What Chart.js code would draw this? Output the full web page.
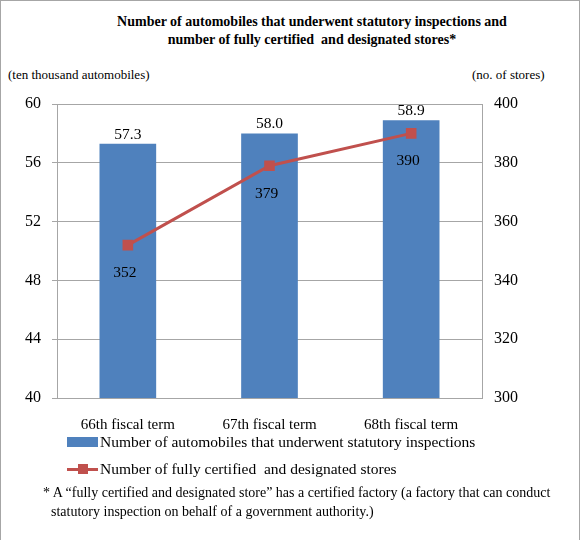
<!DOCTYPE html>
<html>
<head>
<meta charset="utf-8">
<script src="https://cdn.jsdelivr.net/npm/chart.js@4"></script>
<style>
    body { margin: 0; background: #fff; }
    #wrap { position: relative; width: 581px; height: 540px; font-family: 'Liberation Serif', serif; color: #000; }
    #frame { position: absolute; left: 0; top: 0; width: 580px; height: 560px; border: 1px solid #a6a6a6; box-sizing: border-box; pointer-events: none; }
    #chart { position: absolute; left: 0; top: 0; }
    .title { position: absolute; left: 90px; width: 444px; top: 13px; text-align: center; font-weight: bold; font-size: 14px; line-height: 18px; white-space: nowrap; }
    .unit { position: absolute; top: 67px; font-size: 13px; line-height: 16px; white-space: nowrap; }
    #legend { position: absolute; left: 67px; top: 428px; font-size: 15.5px; }
    #legend .item { height: 27px; display: flex; align-items: center; white-space: nowrap; }
    #legend .swatch { position: relative; width: 31px; height: 12px; margin-right: 2px; }
    .note { position: absolute; left: 51px; top: 483px; width: 510px; font-size: 14px; line-height: 19px; text-indent: -8px; }
</style>
</head>
<body>
<div id="wrap">
    <div class="title">Number of automobiles that underwent statutory inspections and<br>number of fully certified&nbsp; and designated stores*</div>
    <div class="unit" style="left: 8px;">(ten thousand automobiles)</div>
    <div class="unit" style="left: 472px;">(no. of stores)</div>
    <canvas id="chart" width="581" height="430"></canvas>
    <div id="legend"></div>
    <div class="note">* A “fully certified and designated store” has a certified factory (a factory that can conduct statutory inspection on behalf of a government authority.)</div>
    <div id="frame"></div>
</div>
<script>
// Data
const terms = ['66th fiscal term', '67th fiscal term', '68th fiscal term'];
const vehicles = [57.3, 58.0, 58.9];   // ten thousand automobiles
const stores = [352, 379, 390];        // no. of stores
const leftTicks = [40, 44, 48, 52, 56, 60];
const rightTicks = [300, 320, 340, 360, 380, 400];

const seriesNames = [
    'Number of automobiles that underwent statutory inspections',
    'Number of fully certified  and designated stores'
];

const BLUE = '#4F81BD';
const RED = '#C0504D';
const GRID = '#a6a6a6';
const FONT = "'Liberation Serif', 'Times New Roman', serif";

// value labels: bars above, line points below
const valueLabels = {
    id: 'valueLabels',
    afterDatasetsDraw(chart) {
        const ctx = chart.ctx;
        ctx.save();
        ctx.font = '15.5px ' + FONT;
        ctx.fillStyle = '#000';
        ctx.textAlign = 'center';
        ctx.textBaseline = 'middle';
        chart.data.datasets.forEach((ds, i) => {
            const meta = chart.getDatasetMeta(i);
            meta.data.forEach((el, j) => {
                if (ds.type === 'bar') {
                    ctx.fillText(ds.data[j].toFixed(1), el.x, el.y - 9);
                } else {
                    ctx.fillText(String(ds.data[j]), el.x - 3, el.y + 28);
                }
            });
        });
        ctx.restore();
    }
};

const chart = new Chart(document.getElementById('chart'), {
    data: {
        labels: terms,
        datasets: [
            {
                type: 'line',
                label: seriesNames[1],
                data: stores,
                yAxisID: 'y1',
                borderColor: RED,
                backgroundColor: RED,
                borderWidth: 3,
                pointStyle: 'rect',
                pointRadius: 7.5,
                pointBorderWidth: 0,
                tension: 0,
                order: 0
            },
            {
                type: 'bar',
                label: seriesNames[0],
                data: vehicles,
                yAxisID: 'y',
                backgroundColor: BLUE,
                borderWidth: 0,
                categoryPercentage: 1,
                barPercentage: 0.4,
                order: 1
            }
        ]
    },
    options: {
        responsive: false,
        animation: false,
        layout: { padding: { left: 0, right: 0, top: 104, bottom: 0 } },
        plugins: {
            legend: { display: false },
            title: { display: false },
            tooltip: { enabled: false }
        },
        scales: {
            x: {
                grid: { display: false },
                border: { color: GRID },
                ticks: { color: '#000', font: { family: FONT, size: 15 }, padding: 10, maxRotation: 0 },
                afterFit: s => { s.height = 32; }
            },
            y: {
                position: 'left',
                min: leftTicks[0],
                max: leftTicks[leftTicks.length - 1],
                afterBuildTicks: s => { s.ticks = leftTicks.map(v => ({ value: v })); },
                grid: { color: GRID, tickLength: 5 },
                border: { color: GRID },
                ticks: { color: '#000', font: { family: FONT, size: 16 }, padding: 11 },
                afterFit: s => { s.width = 57; }
            },
            y1: {
                position: 'right',
                min: rightTicks[0],
                max: rightTicks[rightTicks.length - 1],
                afterBuildTicks: s => { s.ticks = rightTicks.map(v => ({ value: v })); },
                grid: { display: false, drawTicks: false },
                border: { color: GRID },
                ticks: { color: '#000', font: { family: FONT, size: 16 }, padding: 12 },
                afterFit: s => { s.width = 99; }
            }
        }
    },
    plugins: [valueLabels]
});

// legend built from the chart's datasets (bar first, then line)
const legendEl = document.getElementById('legend');
[1, 0].forEach(i => {
    const ds = chart.data.datasets[i];
    const item = document.createElement('div');
    item.className = 'item';
    const sw = document.createElement('div');
    sw.className = 'swatch';
    if (ds.type === 'bar') {
        sw.innerHTML = '<div style="position:absolute;left:0;top:1px;width:31px;height:10px;background:' + ds.backgroundColor + '"></div>';
    } else {
        sw.innerHTML = '<div style="position:absolute;left:0;top:5px;width:31px;height:3px;background:' + ds.borderColor + '"></div>' +
            '<div style="position:absolute;left:11px;top:1px;width:10px;height:10px;background:' + ds.backgroundColor + '"></div>';
    }
    const txt = document.createElement('span');
    txt.textContent = ds.label;
    txt.style.whiteSpace = 'pre';
    item.appendChild(sw);
    item.appendChild(txt);
    legendEl.appendChild(item);
});
</script>
</body>
</html>
